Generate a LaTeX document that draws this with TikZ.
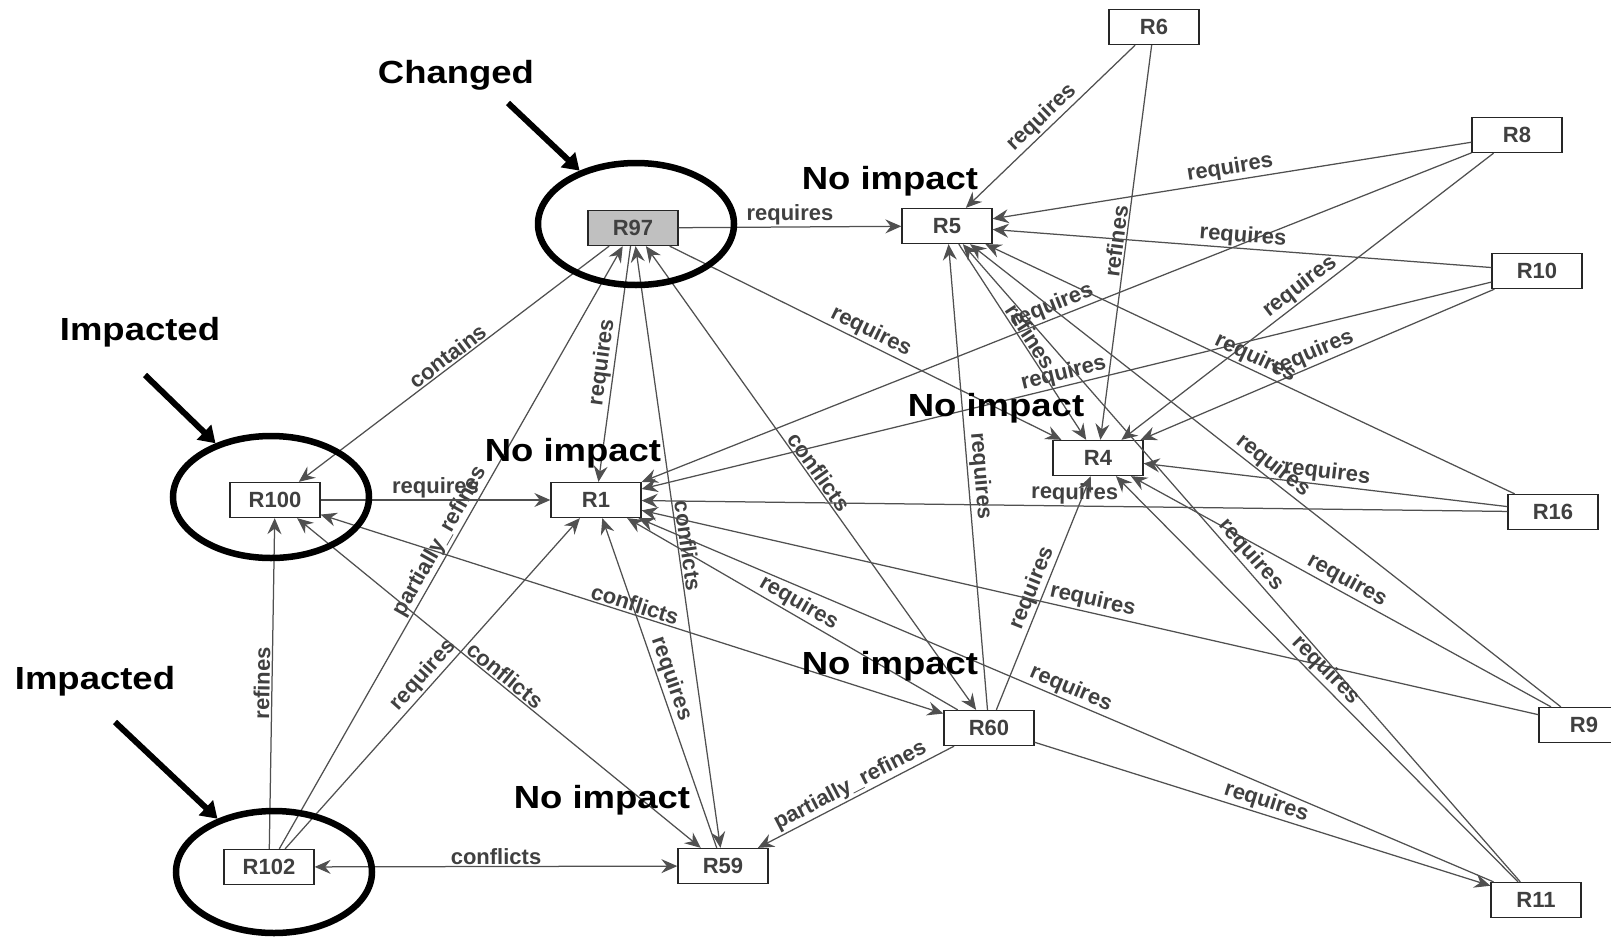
\documentclass[tikz,border=0pt]{standalone}
\usepackage{fontspec}
\setmainfont{Liberation Sans}
\newfontfamily\bigfont[FakeStretch=1.14]{Liberation Sans}
\usetikzlibrary{arrows.meta,shapes.geometric}
\definecolor{edgegray}{HTML}{505050}
\definecolor{txtgray}{HTML}{404040}
\definecolor{changedfill}{HTML}{C0C0C0}
\begin{document}
\begin{tikzpicture}[x=1pt,y=-1pt,
  >={Stealth[length=16pt,width=14pt,inset=5.5pt]},
  req/.style={draw=black!85, line width=1.3pt, fill=white, minimum width=90pt, minimum height=35pt, inner sep=0pt, font=\fontsize{22}{24}\selectfont\bfseries, text=txtgray},
  edge/.style={draw=edgegray, line width=1.25pt, ->},
  both/.style={draw=edgegray, line width=1.25pt, <->},
  lbl/.style={midway, sloped, above, inner sep=1.5pt, font=\fontsize{22}{24}\selectfont\bfseries, text=txtgray},
  big/.style={font=\bigfont\bfseries\fontsize{32}{36}\selectfont, text=black, inner sep=0pt},
  ring/.style={draw=black, line width=6.5pt, ellipse, minimum width=196pt, minimum height=122pt, inner sep=0pt},
  pointer/.style={draw=black, line width=6pt, -{Triangle[length=16pt,width=20pt]}}
]
\useasboundingbox (0,0) rectangle (1611,937);
\clip (0,0) rectangle (1611,937);

% requirement nodes
\node[req] (R6) at (1154,27) {R6};
\node[req] (R8) at (1517,135) {R8};
\node[req] (R10) at (1537,271) {R10};
\node[req] (R5) at (947,226) {R5};
\node[req, fill=changedfill] (R97) at (633,228) {R97};
\node[req] (R100) at (275,500) {R100};
\node[req] (R1) at (596,500) {R1};
\node[req] (R4) at (1098,458) {R4};
\node[req] (R16) at (1553,512) {R16};
\node[req] (R9) at (1584,725) {R9};
\node[req] (R60) at (989,728) {R60};
\node[req] (R59) at (723,866) {R59};
\node[req] (R102) at (269,867) {R102};
\node[req] (R11) at (1536,900) {R11};

% edges
\draw[edge] (R97) -- (R5) node[lbl]{requires};
\draw[edge] (R97) -- (R100) node[lbl]{contains};
\draw[edge] (R97) -- (R1) node[lbl]{requires};
\draw[edge] (R97) -- (R4) node[lbl]{requires};
\draw[both] (R97) -- (R59) node[lbl]{conflicts};
\draw[both] (R97) -- (R60) node[lbl]{conflicts};
\draw[edge] (R102) -- (R97) node[lbl]{partially\_refines};
\draw[edge] (R102) -- (R100) node[lbl]{refines};
\draw[edge] (R102) -- (R1) node[lbl]{requires};
\draw[both] (R102) -- (R59) node[lbl]{conflicts};
\draw[edge] (R100) -- (R1) node[lbl]{requires};
\draw[both] (R100) -- (R59) node[lbl]{conflicts};
\draw[both] (R100) -- (R60) node[lbl]{conflicts};
\draw[edge] (R59) -- (R1) node[lbl]{requires};
\draw[edge] (R60) -- (R59) node[lbl]{partially\_refines};
\draw[edge] (R60) -- (R1) node[lbl]{requires};
\draw[edge] (R60) -- (R5) node[lbl]{requires};
\draw[edge] (R60) -- (R4) node[lbl]{requires};
\draw[edge] (R60) -- (R11) node[lbl]{requires};
\draw[edge] (R6) -- (R5) node[lbl]{requires};
\draw[edge] (R6) -- (R4) node[lbl]{refines};
\draw[edge] (R8) -- (R5) node[lbl]{requires};
\draw[edge] (R8) -- (R4) node[lbl]{requires};
\draw[edge] (R8) -- (R1) node[lbl]{requires};
\draw[edge] (R10) -- (R5) node[lbl]{requires};
\draw[edge] (R10) -- (R4) node[lbl]{requires};
\draw[edge] (R10) -- (R1) node[lbl]{requires};
\draw[edge] (R16) -- (R5) node[lbl]{requires};
\draw[edge] (R16) -- (R4) node[lbl]{requires};
\draw[edge] (R16) -- (R1) node[lbl]{requires};
\draw[edge] (R9) -- (R5) node[lbl]{requires};
\draw[edge] (R9) -- (R4) node[lbl]{requires};
\draw[edge] (R9) -- (R1) node[lbl]{requires};
\draw[edge] (R11) -- (R5) node[lbl]{requires};
\draw[edge] (R11) -- (R4) node[lbl]{requires};
\draw[edge] (R11) -- (R1) node[lbl]{requires};
\draw[edge] (R5) -- (R4) node[lbl]{refines};

% annotation rings
\node[ring] (E97) at (636,224) {};
\node[ring] (E100) at (271,497) {};
\node[ring] (E102) at (274,872) {};

% annotation texts
\node[big] (tChanged) at (456,75) {Changed};
\node[big] (tImp1) at (140,332) {Impacted};
\node[big] (tImp2) at (95,681) {Impacted};
\node[big] (tN5) at (890,181) {No impact};
\node[big] (tN4) at (996,408) {No impact};
\node[big] (tN1) at (573,453) {No impact};
\node[big] (tN60) at (890,666) {No impact};
\node[big] (tN59) at (602,800) {No impact};

% annotation pointers
\coordinate (pChanged) at (508,103);
\coordinate (pImp1) at (145,375);
\coordinate (pImp2) at (115,722);
\draw[pointer] (pChanged) -- (E97);
\draw[pointer] (pImp1) -- (E100);
\draw[pointer] (pImp2) -- (E102);
\end{tikzpicture}
\end{document}
